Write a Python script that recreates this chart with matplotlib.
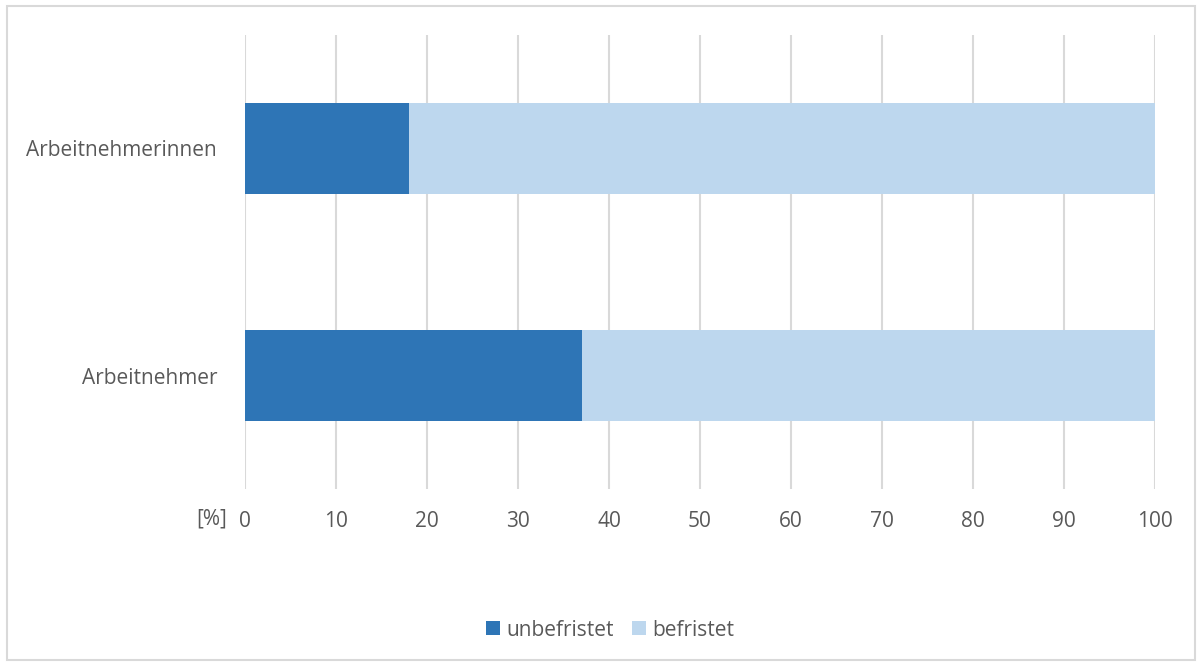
import matplotlib

matplotlib.use("Agg")
import matplotlib.pyplot as plt
from matplotlib.patches import Rectangle

categories = ["Arbeitnehmer", "Arbeitnehmerinnen"]
unbefristet = [37, 18]
befristet = [63, 82]
ticks = [0, 10, 20, 30, 40, 50, 60, 70, 80, 90, 100]

DARK = "#2e75b6"
LIGHT = "#bdd7ee"
GRID = "#d9d9d9"
TXT = "#595959"

plt.rcParams["font.family"] = ["Open Sans", "DejaVu Sans"]

fig = plt.figure(figsize=(12, 6.63), dpi=100)
ax = fig.add_axes([245 / 1200, 174 / 663, 910 / 1200, 454 / 663])

y = range(len(categories))
ax.barh(y, unbefristet, height=0.4, color=DARK, label="unbefristet", zorder=3)
ax.barh(y, befristet, left=unbefristet, height=0.4, color=LIGHT, label="befristet", zorder=3)

ax.set_xlim(0, 100)
ax.set_ylim(-0.5, 1.5)
ax.set_xticks(ticks)
ax.set_xticklabels([str(t) for t in ticks])
ax.set_yticks(list(y))
ax.set_yticklabels(categories)
ax.tick_params(axis="both", length=0, labelsize=15, labelcolor=TXT)
ax.tick_params(axis="x", pad=16)
ax.tick_params(axis="y", pad=20)
ax.grid(axis="x", color=GRID, lw=1.5, zorder=0)
for s in ax.spines.values():
    s.set_visible(False)

fig.text(212 / 1200, 1 - 519 / 663, "[%]", ha="center", va="center", fontsize=15, color=TXT)

ax.legend(
    loc="center",
    bbox_to_anchor=(610 / 1200, 1 - 630 / 663),
    bbox_transform=fig.transFigure,
    ncol=2,
    frameon=False,
    fontsize=15,
    labelcolor=TXT,
    handlelength=0.65,
    handleheight=0.65,
    handletextpad=0.3,
    columnspacing=0.9,
)

fig.patches.append(
    Rectangle((7 / 1200, 3 / 663), 1188 / 1200, 654 / 663, transform=fig.transFigure,
              fill=False, edgecolor=GRID, lw=1.5)
)

fig.savefig("out.png", dpi=100)
